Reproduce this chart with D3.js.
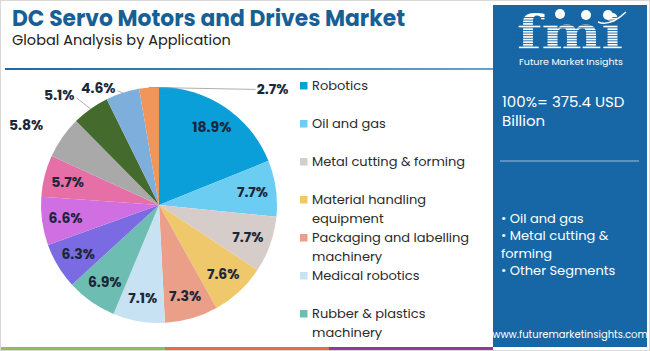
<!DOCTYPE html>
<html>
<head>
<meta charset="utf-8">
<script src="https://cdn.jsdelivr.net/npm/d3@7"></script>
<style>
  body { margin: 0; background: #fff; }
  svg { display: block; font-family: "Poppins", "Roboto", "Noto Sans", sans-serif; }
</style>
</head>
<body>
<div id="chart"></div>
<script>
// chart data
var segments = ["Robotics", "Oil and gas", "Metal cutting & forming", "Material handling equipment",
  "Packaging and labelling machinery", "Medical robotics", "Rubber & plastics machinery",
  "Segment 8", "Segment 9", "Segment 10", "Segment 11", "Segment 12", "Segment 13", "Segment 14"];
var shares = [18.9, 7.7, 7.7, 7.6, 7.3, 7.1, 6.9, 6.3, 6.6, 5.7, 5.8, 5.1, 4.6, 2.7];
var sliceColors = ["#0a9fd8", "#6ccdf2", "#d6cdca", "#efc86b", "#eb9f88", "#c6e2f3", "#6dbdb2",
  "#7a6be3", "#cf6fe2", "#e56fa6", "#a9a9a9", "#456a2e", "#7eaedc", "#f0965a"];
var outside = ["Segment 11", "Segment 12", "Segment 13", "Segment 14"];
var legendLabels = [["Robotics"], ["Oil and gas"], ["Metal cutting & forming"], ["Material handling", "equipment"],
  ["Packaging and labelling", "machinery"], ["Medical robotics"], ["Rubber & plastics", "machinery"]];
var totalText = ["100%= 375.4 USD", "Billion"];
var bullets = ["\u2022 Oil and gas", "\u2022 Metal cutting &", "forming", "\u2022 Other Segments"];

var W = 650, H = 351;
var svg = d3.select("#chart").append("svg").attr("width", W).attr("height", H);

//frame
svg.append("rect").attr("x", 0.5).attr("y", 0.5).attr("width", W - 1).attr("height", H - 1)
  .attr("fill", "#fff").attr("stroke", "#d9d9d9");

//title
svg.append("text").attr("x", 12).attr("y", 26).text("DC Servo Motors and Drives Market")
  .attr("font-size", "22.5px").attr("font-weight", "bold").attr("fill", "#175f94")
  .attr("textLength", 393).attr("lengthAdjust", "spacingAndGlyphs");
svg.append("text").attr("x", 12).attr("y", 45).text("Global Analysis by Application")
  .attr("font-size", "14.5px").attr("fill", "#222");

//header rule
var grad = svg.append("defs").append("linearGradient").attr("id", "rule");
grad.append("stop").attr("offset", "0%").attr("stop-color", "#1b6aa6");
grad.append("stop").attr("offset", "100%").attr("stop-color", "#62a3d0");
svg.append("rect").attr("x", 5).attr("y", 68).attr("width", 488).attr("height", 2).attr("fill", "url(#rule)");

//bottom strip
var strip = ["#8cc152", "#ec6a3c", "#8e3d96"];
svg.selectAll(".strip").data(strip).enter().append("rect")
  .attr("x", (d, i) => 1 + i * 164).attr("y", 347).attr("width", 164).attr("height", 3).attr("fill", d => d);

//pie
var cx = 159, cy = 205, r = 118;
var pie = d3.pie().sort(null).value(d => d.v);
var arcs = pie(shares.map((v, i) => ({ v: v, name: segments[i], color: sliceColors[i] })));
var arc = d3.arc().innerRadius(0).outerRadius(r);
var labelArc = d3.arc().innerRadius(r * 0.8).outerRadius(r * 0.8);

var g = svg.append("g").attr("transform", "translate(" + cx + "," + cy + ")");
g.selectAll("path").data(arcs).enter().append("path")
  .attr("d", arc).attr("fill", d => d.data.color);

//inside labels
g.selectAll(".inLab").data(arcs.filter(d => outside.indexOf(d.data.name) < 0)).enter().append("text")
  .attr("transform", d => "translate(" + labelArc.centroid(d) + ")")
  .attr("text-anchor", "middle").attr("dy", "0.36em")
  .attr("font-size", "14px").attr("font-weight", "bold").attr("fill", "#1b2639")
  .text(d => d.data.v.toFixed(1) + "%");

//outside labels with leader lines (offsets from the slice edge)
var offsets = { 10: [-17, -10, false], 11: [-14, -11, true], 12: [-5, -2, true] };
arcs.filter(d => outside.indexOf(d.data.name) >= 0).forEach(function (d) {
  var mid = (d.startAngle + d.endAngle) / 2;
  var p0 = [Math.sin(mid) * r, -Math.cos(mid) * r];
  var p1, tx, ty, anchor, drawLine = true;
  if (d.index === arcs.length - 1) {
    p1 = [r * 0.82, p0[1] + 2];
    tx = p1[0] + 1; ty = p1[1]; anchor = "start";
  } else {
    var o = offsets[d.index];
    p1 = [p0[0] + o[0], p0[1] + o[1]];
    tx = p1[0] - 2; ty = p1[1] - 3; anchor = "end"; drawLine = o[2];
  }
  if (drawLine) {
    g.append("path").attr("d", d3.line()([p0, p1])).attr("stroke", "#9a9a9a").attr("stroke-width", 0.8).attr("fill", "none");
  }
  g.append("text").attr("x", tx).attr("y", ty).attr("dy", "0.36em").attr("text-anchor", anchor)
    .attr("font-size", "14px").attr("font-weight", "bold").attr("fill", "#1b2639")
    .text(d.data.v.toFixed(1) + "%");
});

//legend
var leg = svg.selectAll(".leg").data(legendLabels).enter().append("g")
  .attr("transform", (d, i) => "translate(300," + (85 + i * 38) + ")");
leg.append("rect").attr("x", 0).attr("y", -3).attr("width", 7.5).attr("height", 7.5)
  .attr("fill", (d, i) => sliceColors[i]);
leg.each(function (lines) {
  d3.select(this).selectAll("text").data(lines).enter().append("text")
    .attr("x", 12).attr("y", (d, j) => j * 19).attr("dy", "0.36em")
    .attr("font-size", "13px").attr("fill", "#2a2a2a").text(d => d);
});

//side panel
var px = 493, pw = 154;
svg.append("rect").attr("x", px).attr("y", 5).attr("width", pw).attr("height", 342).attr("fill", "#1767a6");

//logo
var logo = svg.append("g");
logo.append("text").attr("x", 570).attr("y", 49).attr("text-anchor", "middle")
  .attr("font-family", "DejaVu Serif").attr("font-weight", "bold").attr("font-size", "46px")
  .attr("fill", "#fff").attr("textLength", 106).attr("lengthAdjust", "spacingAndGlyphs").text("fmi");
logo.selectAll(".stripe").data(d3.range(17, 50, 2.6)).enter().append("rect")
  .attr("x", 512).attr("y", d => d).attr("width", 118).attr("height", 0.9).attr("fill", "#1767a6");
logo.selectAll(".dot").data([[560, 14], [586, 15], [608, 15]]).enter().append("circle")
  .attr("cx", d => d[0]).attr("cy", d => d[1]).attr("r", 5).attr("fill", "#fff");
logo.append("path").attr("d", "M598,22 Q610,27 626,12").attr("stroke", "#fff").attr("stroke-width", 1.5).attr("fill", "none");
logo.append("text").attr("x", 571).attr("y", 65).attr("text-anchor", "middle")
  .attr("font-size", "9.5px").attr("fill", "#fff").text("Future Market Insights");

svg.selectAll(".tot").data(totalText).enter().append("text")
  .attr("x", 502).attr("y", (d, i) => 107 + i * 19).attr("font-size", "15px").attr("fill", "#fff").text(d => d);
svg.append("line").attr("x1", 500).attr("x2", 639).attr("y1", 161).attr("y2", 161)
  .attr("stroke", "#9fc0dd").attr("stroke-width", 1);
svg.selectAll(".bul").data(bullets).enter().append("text")
  .attr("x", 501).attr("y", (d, i) => 218 + i * 17.5).attr("dy", "0.36em")
  .attr("font-size", "13px").attr("fill", "#fff").text(d => d);
svg.append("text").attr("x", 570).attr("y", 338).attr("text-anchor", "middle")
  .attr("font-size", "10px").attr("fill", "#fff").text("www.futuremarketinsights.com");
</script>
</body>
</html>
